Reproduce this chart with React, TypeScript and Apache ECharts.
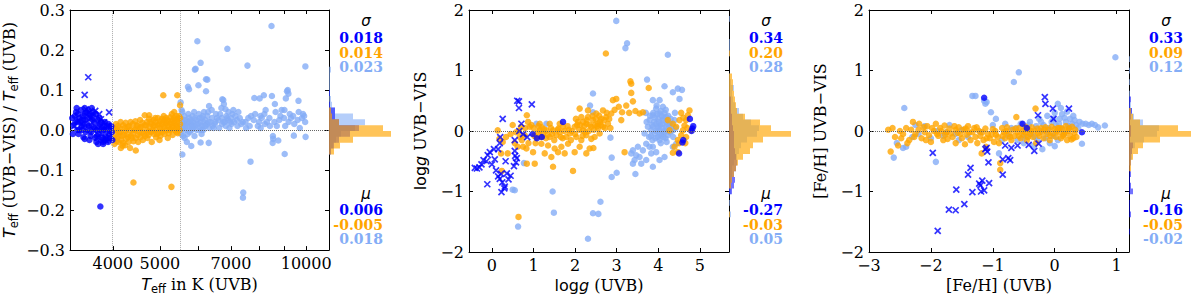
import React, { useEffect, useRef } from "react";
import * as echarts from "echarts";

type P = [number, number];

const BLUE = "#0000ff";
const ORANGE = "#ffa500";
const LIGHT = "#84adf6";
const SERIF = '"DejaVu Serif"';
const SANS = '"DejaVu Sans"';

// ---------------- Panel 1 : Teff ----------------
const teffRange = [3265, 11140];
const teffLabelValues = [4000, 5000, 7000, 10000];
const teffTickValues = [4000, 5000, 6000, 7000, 8000, 9000, 10000];
const teffVLines = [4000, 5500];
const relTicks = [-0.3, -0.2, -0.1, 0, 0.1, 0.2, 0.3];

const teffBlueCross: P[] = [
  [3560, 0.132], [3500, 0.088], [3930, 0.044], [3680, 0.048], [3575, 0.044], [3520, 0.052],
  [3780, 0.027], [3840, 0.019], [3450, 0.015], [3927, -0.006], [3720, -0.018], [3870, -0.026],
  [3600, 0.03], [3400, 0.025], [3650, 0.0], [3330, 0.01], [3750, 0.04], [3900, 0.01],
  [3550, 0.035], [3800, -0.01],
];
const teffBlueDot: P[] = [
  [3320, 0.012], [3340, 0.035], [3360, 0.045], [3380, 0.02], [3400, -0.01], [3420, 0.03],
  [3440, 0.05], [3460, 0.0], [3480, 0.025], [3500, 0.04], [3520, -0.005], [3540, 0.015],
  [3560, 0.05], [3580, 0.03], [3600, -0.015], [3620, 0.01], [3640, 0.035], [3660, 0.02],
  [3680, -0.02], [3700, 0.0], [3720, 0.025], [3740, -0.01], [3760, 0.015], [3780, -0.025],
  [3800, 0.005], [3820, -0.03], [3840, 0.01], [3860, -0.015], [3880, 0.0], [3900, -0.02],
  [3920, 0.015], [3940, -0.01], [3960, 0.005], [3980, -0.005], [3450, 0.01], [3550, 0.0],
  [3650, 0.045], [3750, 0.03], [3850, 0.02], [3580, -0.025], [3700, -0.03], [3820, -0.035],
  [3480, -0.018], [3380, 0.0], [3620, 0.055], [3500, 0.055], [3500, -0.022], [3770, -0.191],
  [3300, 0.03], [3310, -0.01], [3350, 0.02], [3370, 0.055], [3390, 0.04], [3410, 0.0],
  [3430, 0.02], [3470, 0.035], [3490, 0.01], [3510, 0.025], [3530, 0.045], [3570, 0.01],
  [3590, 0.04], [3610, -0.005], [3630, 0.025], [3670, 0.005], [3690, 0.04], [3710, -0.015],
  [3730, 0.01], [3770, 0.0], [3790, 0.02], [3810, -0.02], [3830, 0.0], [3870, -0.025],
  [3890, 0.01], [3910, -0.03], [3950, -0.02], [3970, 0.01], [3990, -0.025], [3730, -0.035],
];
const teffOrange: P[] = [
  [4020, 0.005], [4020, -0.02], [4030, -0.035], [4060, 0.015], [4060, -0.01], [4070, -0.028],
  [4100, 0.01], [4100, -0.015], [4110, -0.03], [4090, 0.0], [4150, 0.02], [4150, -0.005],
  [4160, -0.025], [4154, -0.045], [4200, 0.012], [4190, -0.039], [4210, -0.012], [4200, -0.032],
  [4250, 0.018], [4250, -0.002], [4260, -0.022], [4240, -0.038], [4300, 0.008], [4300, -0.018],
  [4310, -0.03], [4350, 0.02], [4350, 0.0], [4360, -0.015], [4340, -0.045], [4400, 0.015],
  [4400, -0.008], [4410, -0.028], [4410, -0.131], [4450, 0.022], [4450, 0.002], [4460, -0.02],
  [4459, -0.051], [4500, 0.01], [4500, -0.012], [4510, -0.03], [4550, 0.025], [4550, 0.005],
  [4560, -0.018], [4600, 0.018], [4600, -0.005], [4610, -0.025], [4653, 0.037], [4650, 0.012],
  [4660, -0.015], [4700, 0.02], [4700, 0.0], [4710, -0.02], [4750, 0.037], [4750, 0.028],
  [4760, 0.008], [4740, -0.012], [4800, 0.015], [4800, -0.005], [4810, -0.03], [4850, 0.025],
  [4850, 0.01], [4860, -0.01], [4900, 0.02], [4900, 0.0], [4910, -0.018], [4890, 0.03],
  [4950, 0.03], [4950, 0.012], [4960, -0.008], [5000, 0.022], [5000, 0.005], [5010, -0.015],
  [4990, -0.025], [5050, 0.028], [5050, 0.015], [5060, -0.005], [5080, 0.087], [5100, 0.025],
  [5100, 0.008], [5110, -0.01], [5090, 0.035], [5150, 0.03], [5150, 0.018], [5160, 0.0],
  [5200, 0.022], [5200, 0.01], [5210, -0.008], [5190, -0.02], [5250, 0.032], [5250, 0.015],
  [5260, 0.002], [5280, -0.142], [5300, 0.025], [5300, 0.008], [5310, -0.012], [5290, 0.04],
  [5350, 0.03], [5350, 0.018], [5360, 0.0], [5350, 0.045], [5400, 0.035], [5400, 0.012],
  [5410, -0.005], [5430, 0.087], [5450, 0.028], [5450, 0.02], [5460, 0.005], [5440, -0.008],
  [5500, 0.03], [5500, 0.015], [5490, 0.0], [5500, 0.062],
  [4040, 0.0], [4080, -0.02], [4120, -0.005], [4130, 0.005], [4170, -0.015], [4230, 0.005],
  [4280, -0.01], [4320, 0.01], [4380, -0.02], [4420, 0.0], [4480, 0.012], [4530, -0.005],
  [4580, 0.008], [4630, -0.01], [4680, 0.012], [4730, -0.005], [4780, 0.02], [4830, 0.0],
  [4880, 0.012], [4930, -0.01], [4980, 0.015], [5030, 0.0], [5080, 0.02], [5130, 0.01],
  [5180, 0.025], [5230, 0.0], [5280, 0.018], [5330, 0.01], [5380, 0.025], [5420, 0.005],
  [5470, 0.035],
];
const teffLight: P[] = [
  [5520, 0.0], [5520, 0.03], [5530, -0.01], [5540, 0.05], [5515, 0.069], [5560, 0.005],
  [5570, 0.02], [5580, -0.015], [5560, 0.045], [5600, 0.01], [5610, 0.035], [5620, -0.02],
  [5560, -0.061], [5650, 0.0], [5660, 0.025], [5640, 0.015], [5680, -0.03], [5700, 0.02],
  [5720, 0.04], [5700, -0.01], [5710, 0.108], [5750, 0.01], [5760, -0.005], [5740, 0.03],
  [5740, 0.102], [5800, 0.015], [5810, 0.0], [5790, 0.025], [5800, -0.04], [5850, 0.02],
  [5860, 0.005], [5840, 0.035], [5900, 0.01], [5910, 0.03], [5890, -0.015], [5921, 0.153],
  [5900, 0.151], [5950, 0.025], [5960, 0.0], [5970, 0.222], [6000, 0.015], [6010, 0.04],
  [6000, 0.112], [6063, -0.031], [6050, 0.02], [6040, 0.005], [6063, 0.168], [6100, 0.03],
  [6110, 0.01], [6090, -0.01], [6150, 0.02], [6160, 0.045], [6140, 0.0], [6220, 0.127],
  [6220, 0.097], [6200, 0.025], [6210, 0.01], [6258, 0.126], [6250, 0.015], [6260, 0.035],
  [6300, -0.032], [6300, 0.02], [6320, 0.005], [6310, 0.06], [6400, 0.03], [6420, 0.01],
  [6390, 0.05], [6500, 0.02], [6520, 0.04], [6480, 0.015], [6600, 0.025], [6720, 0.077],
  [6620, 0.005], [6750, 0.075], [6770, 0.065], [6820, 0.052], [6700, 0.03], [6710, 0.015],
  [6690, 0.055], [6800, 0.02], [6850, 0.035], [6830, 0.01], [6900, 0.025], [6920, 0.045],
  [6950, 0.005], [7000, 0.03], [7020, 0.015], [7050, 0.04], [6882, 0.203], [7100, 0.02],
  [7150, 0.035], [7200, 0.025], [7220, 0.01], [7250, 0.045], [7300, 0.03], [7350, 0.015],
  [7420, -0.156], [7410, -0.169], [7500, 0.02], [7520, 0.005], [7570, 0.161], [7680, -0.079],
  [7600, 0.03], [7650, 0.01], [7800, 0.025], [7850, 0.04], [7820, 0.08], [8000, 0.02],
  [8020, 0.079], [8050, 0.035], [8060, 0.005], [8180, 0.087], [8200, 0.04], [8220, 0.015],
  [8250, 0.05], [8400, 0.03], [8483, 0.26], [8420, 0.01], [8500, 0.085], [8540, -0.015],
  [8550, -0.022], [8530, -0.032], [8760, -0.026], [8600, 0.02], [8650, 0.045], [8620, 0.065],
  [8800, 0.025], [8850, 0.035], [9000, 0.03], [9050, 0.01], [9020, 0.05], [9030, -0.06],
  [9130, 0.097], [9190, 0.091], [9080, 0.079], [9160, 0.1], [9200, 0.02], [9250, 0.04],
  [9430, -0.014], [9400, 0.035], [9450, 0.015], [9600, 0.025], [9640, 0.073], [9650, 0.045],
  [9800, 0.03], [9850, 0.04], [9970, -0.017], [9960, 0.159], [9900, 0.035], [9950, 0.02],
  [5530, 0.015], [5590, 0.025], [5630, 0.005], [5690, 0.01], [5770, 0.02], [5830, 0.01],
  [5880, 0.045], [5940, 0.015], [6030, 0.03], [6080, 0.0], [6130, 0.035], [6180, 0.01],
  [6280, 0.045], [6350, 0.02], [6450, 0.005], [6550, 0.03], [6650, 0.04], [6760, 0.02],
  [6880, 0.03], [6980, 0.02], [7080, 0.05], [7400, 0.02], [7700, 0.035], [7950, 0.01],
  [8100, 0.03], [8300, 0.02], [8700, 0.01], [8900, 0.05], [9300, 0.03], [9700, 0.005],
];
const teffHistStart = -0.058;
const teffHistWidth = 0.0145;
const teffHistLight = [2, 4, 7, 12, 26, 36, 24, 6, 3, 2, 1, 1, 1, 1, 2];
const teffHistBlue = [2, 5, 10, 21, 30, 10, 6, 6, 1, 0, 1, 0, 0, 0, 0];
const teffHistOrange = [5, 11, 24, 62, 54, 10, 3, 2, 0, 0, 0, 0, 0, 0, 0];
const teffSigma = ["0.018", "0.014", "0.023"];
const teffMu = ["0.006", "-0.005", "0.018"];

// ---------------- Panel 2 : log g ----------------
const loggRange = [-0.55, 5.7];
const loggTicks = [0, 1, 2, 3, 4, 5];
const dexTicks = [-2, -1, 0, 1, 2];
const loggBlueCross: P[] = [
  [-0.41, -0.61], [-0.36, -0.62], [-0.3, -0.6], [-0.2, -0.48], [-0.11, -0.88], [-0.13, -0.5],
  [-0.1, -0.4], [-0.05, -0.35], [0.05, -0.3], [0.07, -0.47], [0.0, -0.55], [0.1, -0.65],
  [0.15, -0.75], [0.19, -0.2], [0.2, -0.1], [0.22, -0.71], [0.19, -0.79], [0.23, -1.01],
  [0.31, -0.92], [0.36, -0.7], [0.4, -0.8], [0.45, -0.74], [0.33, -0.5], [0.26, 0.2],
  [0.25, -0.85], [0.3, -0.95], [0.55, -0.33], [0.56, -0.41], [0.53, -0.58], [0.58, -0.52],
  [0.6, -0.45], [0.65, 0.38], [0.65, 0.49], [0.61, 0.5], [0.96, 0.44], [0.71, 0.12],
  [0.75, -0.05], [0.55, -0.15], [0.66, 0.0], [0.85, -0.1], [-0.25, -0.55], [0.15, -0.3],
];
const loggBlueDot: P[] = [
  [1.71, 0.15], [4.76, 0.2], [4.84, 0.08], [4.82, 0.04], [4.8, 0.0], [4.6, -0.15],
  [4.58, -0.19], [4.5, -0.37], [1.08, -0.12], [1.2, -0.1], [0.98, -0.05],
];
const loggOrange: P[] = [
  [0.14, 0.01], [0.18, -0.13], [0.26, -0.18], [0.34, -0.1], [0.22, -0.37], [0.24, -0.66],
  [0.38, -0.37], [0.58, -0.02], [0.7, 0.07], [0.79, -0.07], [0.84, 0.26], [0.87, 0.15],
  [0.91, 0.07], [0.67, -0.1], [0.75, -0.26], [0.83, -0.29], [0.62, -0.26], [0.84, -0.54],
  [0.99, -0.35], [1.07, -0.1], [1.03, -0.54], [1.15, 0.01], [1.23, -0.04], [1.31, 0.01],
  [1.39, -0.1], [1.47, 0.01], [1.55, -0.07], [1.63, -0.02], [1.71, 0.07], [1.79, -0.1],
  [1.87, -0.04], [1.19, -0.21], [1.35, -0.24], [1.51, -0.29], [1.67, -0.26], [1.83, -0.21],
  [1.27, -0.37], [1.43, -0.43], [1.59, -0.35], [1.75, -0.37], [1.47, -0.59], [1.95, -0.66],
  [1.15, 0.12], [1.39, 0.12], [1.63, 0.12], [1.0, 0.05], [1.1, -0.02], [1.2, 0.06],
  [1.3, -0.12], [1.45, -0.05], [1.6, 0.04], [1.7, -0.12], [1.85, 0.02], [1.9, -0.15],
  [1.05, -0.2], [1.99, 0.07], [2.07, 0.15], [2.15, 0.23], [2.19, 0.01], [2.27, 0.12],
  [2.31, 0.23], [2.39, 0.07], [2.43, 0.18], [2.51, 0.29], [2.55, 0.12], [2.63, 0.2],
  [2.67, 0.07], [2.75, 0.23], [2.79, 0.12], [2.87, 0.29], [2.03, -0.1], [2.15, -0.15],
  [2.27, -0.07], [2.39, -0.13], [2.11, -0.26], [2.35, -0.29], [2.44, -0.28], [2.27, -0.37],
  [1.99, -0.35], [2.59, -0.04], [2.11, 0.37], [2.31, 0.34], [2.67, 0.34], [2.05, 0.1],
  [2.1, 0.02], [2.2, 0.15], [2.25, -0.02], [2.35, 0.1], [2.45, 0.02], [2.5, 0.2],
  [2.55, 0.05], [2.6, 0.15], [2.7, 0.18], [2.0, -0.05], [2.22, 0.08], [2.48, 0.1],
  [2.91, 0.51], [2.99, 0.53], [3.13, 0.31], [3.23, 0.42], [3.11, 0.18], [3.39, 0.49],
  [3.35, 0.63], [3.33, 0.82], [3.35, 0.78], [3.77, 0.71], [2.74, 1.28], [3.19, -0.35],
  [3.55, 0.29], [3.63, 0.31], [0.64, -1.42], [4.75, 0.34], [4.71, 0.26], [4.67, 0.18],
  [4.63, 0.09], [4.59, 0.01], [4.51, 0.18], [4.43, 0.07], [4.35, 0.12], [4.55, -0.07],
  [4.47, -0.15], [4.39, -0.26], [4.35, -0.36], [4.47, -0.35], [4.67, -0.1], [4.79, 0.01],
  [4.27, 0.01], [4.23, 0.18], [4.6, 0.22], [4.7, 0.05], [4.5, -0.2],
  [0.45, -0.05], [0.5, 0.1], [0.55, -0.2], [0.65, 0.0], [0.72, -0.15], [0.8, 0.05],
  [0.88, -0.2], [0.95, 0.1], [1.02, -0.08], [1.12, 0.08], [1.18, -0.1], [1.25, 0.03],
  [1.34, -0.06], [1.42, 0.05], [1.5, -0.15], [1.58, 0.02], [1.66, -0.1], [1.74, 0.0],
  [1.82, 0.08], [1.92, 0.0], [2.02, 0.2], [2.12, 0.1], [2.18, -0.08], [2.28, 0.18],
  [2.33, 0.0], [2.42, 0.25], [2.47, -0.1], [2.53, 0.08], [2.58, 0.25], [2.62, 0.1],
  [2.72, 0.05], [2.76, 0.3], [2.82, 0.2], [2.85, 0.05], [2.95, 0.35], [3.05, 0.4],
  [3.3, 0.3], [3.45, 0.33], [4.55, 0.3], [4.65, -0.2],
];
const loggLight: P[] = [
  [3.79, 0.18], [3.87, 0.07], [3.95, 0.12], [4.03, 0.01], [4.11, 0.18], [4.19, 0.07],
  [3.91, -0.04], [3.99, -0.1], [4.07, -0.07], [4.15, -0.02], [4.23, -0.07], [4.27, 0.12],
  [4.31, 0.01], [3.87, 0.26], [4.03, 0.29], [4.19, 0.23], [3.95, 0.37], [4.11, 0.4],
  [3.83, 0.01], [3.75, 0.07], [3.67, -0.04], [4.03, -0.15], [4.35, 0.01], [4.39, 0.18],
  [3.9, 0.15], [4.0, 0.2], [4.05, 0.1], [4.1, 0.05], [4.15, 0.3], [4.2, 0.15],
  [3.85, 0.1], [3.95, 0.0], [4.0, 0.08], [4.08, 0.25], [4.12, -0.1], [4.25, 0.05],
  [3.73, 0.85], [4.15, 0.74], [4.47, 0.7], [4.57, 0.68], [4.35, 0.64], [4.51, 0.53],
  [3.87, 0.51], [4.03, 0.51], [2.43, 0.62], [2.36, 0.42], [2.43, 0.31], [2.85, -0.11],
  [3.35, -0.37], [3.39, -0.32], [3.43, -0.48], [3.47, -0.4], [3.51, -0.26], [3.55, -0.43],
  [3.63, -0.32], [3.71, -0.21], [3.79, -0.26], [3.87, -0.26], [3.71, -0.48], [3.59, -0.54],
  [3.83, -0.37], [3.95, -0.35], [3.39, -0.54], [3.87, -0.59], [4.03, -0.48], [4.15, -0.43],
  [4.35, -0.26], [4.43, -0.21], [3.45, -0.71], [2.88, -0.76], [3.0, -0.69], [2.88, -0.44],
  [2.99, 1.82], [3.21, 1.37], [3.25, 1.45], [4.23, 1.26], [1.46, -1.0], [1.49, -1.35],
  [2.61, -1.17], [2.43, -1.36], [2.56, -1.37], [2.31, -1.78], [0.63, -1.58], [0.5, -0.97],
  [0.55, -0.98], [0.77, -0.53], [1.07, 0.12], [1.31, 0.12],
  [3.8, 0.25], [3.82, -0.08], [3.88, 0.3], [3.92, 0.22], [3.93, -0.12], [3.97, 0.28],
  [3.98, 0.05], [4.02, 0.15], [4.04, -0.05], [4.06, 0.33], [4.09, 0.12], [4.13, 0.22],
  [4.14, 0.0], [4.17, -0.12], [4.18, 0.35], [4.21, 0.12], [4.24, 0.25], [4.28, -0.02],
  [4.3, 0.2], [4.33, 0.1], [4.36, -0.1], [3.86, -0.15], [3.96, 0.42], [4.06, -0.2],
  [4.2, -0.18], [3.78, -0.1], [3.72, 0.15], [4.4, 0.3], [4.42, 0.05], [3.7, 0.3],
];
const loggHistStart = -1.425;
const loggHistWidth = 0.095;
const loggHistLight = [2, 0, 1, 0, 2, 1, 2, 3, 3, 5, 8, 10, 12, 18, 28, 30, 22, 14, 10, 6, 4, 3, 5, 2, 1, 0, 0, 0, 1, 1, 1, 0, 0, 0, 1];
const loggHistBlue = [0, 0, 0, 0, 3, 5, 6, 5, 7, 8, 7, 6, 5, 5, 5, 4, 3, 3, 2, 2, 2, 0, 0, 0, 0, 0, 0, 0, 0, 0, 0, 0, 0, 0, 0];
const loggHistOrange = [1, 0, 0, 0, 0, 2, 3, 5, 7, 9, 14, 21, 24, 34, 62, 42, 31, 16, 8, 7, 6, 5, 4, 4, 3, 0, 0, 0, 1, 0, 0, 0, 0, 0, 0];
const loggSigma = ["0.34", "0.20", "0.28"];
const loggMu = ["-0.27", "-0.03", "0.05"];

// ---------------- Panel 3 : [Fe/H] ----------------
const fehRange = [-3, 1.2];
const fehTicks = [-3, -2, -1, 0, 1];
const fehBlueCross: P[] = [
  [-1.89, -1.65], [-1.71, -1.3], [-1.6, -1.31], [-1.59, -0.97], [-1.46, -1.21], [-1.33, -1.01],
  [-1.4, -0.72], [-1.36, -0.61], [-1.22, -0.87], [-1.17, -0.82], [-1.19, -1.0], [-1.14, -0.98],
  [-1.06, -0.86], [-1.07, -0.52], [-1.09, -0.34], [-1.1, -0.28], [-1.97, -0.36], [-0.84, -0.72],
  [-0.84, -0.47], [-0.75, -0.45], [-0.72, -0.48], [-0.8, -0.24], [-0.6, -0.24], [-0.42, -0.23],
  [-0.33, -0.33], [-0.27, 0.26], [-0.26, -0.21], [-0.15, 0.45], [-0.16, 0.56], [-0.03, 0.37],
  [-0.02, 0.2], [0.23, 0.37], [-1.2, -0.9], [-1.12, -0.3], [-0.7, -0.28],
];
const fehBlueDot: P[] = [
  [-1.14, 0.55], [-0.52, 0.12], [-0.45, 0.05], [0.44, -0.02],
];
const fehOrange: P[] = [
  [-2.69, 0.02], [-2.65, -0.34], [-2.58, -0.1], [-2.53, -0.24], [-2.5, 0.0], [-2.45, -0.05],
  [-2.4, 0.05], [-2.35, -0.15], [-2.29, 0.15], [-2.25, -0.05], [-2.2, 0.02], [-2.19, 0.12],
  [-2.15, -0.12], [-2.1, -0.02], [-2.06, 0.08], [-2.03, -0.07], [-2.0, -0.18], [-1.95, 0.0],
  [-1.92, 0.12], [-1.88, -0.08], [-1.85, 0.05], [-1.8, -0.15], [-1.78, 0.09], [-1.75, -0.02],
  [-1.73, -0.13], [-1.7, 0.04], [-1.65, -0.1], [-1.62, 0.08], [-1.6, -0.2], [-1.57, -0.03],
  [-1.55, 0.06], [-1.5, -0.12], [-1.47, 0.02], [-1.45, -0.22], [-1.42, -0.06], [-1.4, 0.08],
  [-1.36, -0.15], [-1.33, -0.02], [-1.3, 0.05], [-1.28, -0.1], [-1.25, -0.2], [-1.22, 0.0],
  [-1.2, -0.08], [-1.18, -0.37], [-1.15, -0.15], [-1.12, 0.04], [-1.11, -0.26], [-1.08, -0.05],
  [-1.05, -0.12], [-1.0, 0.03], [-0.98, -0.18], [-0.95, -0.06], [-0.92, -0.1], [-0.88, -0.53],
  [-0.88, -0.64], [-0.85, 0.05], [-0.82, -0.02], [-0.8, -0.12], [-0.77, 0.06], [-0.74, -0.05],
  [-0.7, -0.15], [-0.68, 0.02], [-0.65, -0.08], [-0.62, 0.23], [-0.6, -0.02], [-0.57, 0.05],
  [-0.55, -0.12], [-0.52, 0.0], [-0.5, -0.06], [-0.47, 0.07], [-0.45, -0.15], [-0.42, 0.02],
  [-0.4, -0.05], [-0.37, 0.06], [-0.35, -0.1], [-0.32, 0.0], [-0.31, 0.37], [-0.3, -0.2],
  [-0.28, 0.04], [-0.25, -0.08], [-0.22, 0.05], [-0.2, -0.02], [-0.18, -0.12], [-0.15, 0.06],
  [-0.12, -0.05], [-0.1, 0.02], [-0.08, -0.15], [-0.05, 0.07], [-0.03, -0.04], [0.0, 0.03],
  [0.02, -0.1], [0.05, 0.05], [0.07, -0.02], [0.1, -0.12], [0.12, 0.04], [0.15, -0.06],
  [0.18, 0.08], [0.2, -0.15], [0.22, 0.0], [0.25, -0.08], [0.28, 0.07], [0.3, -0.12],
  [0.32, -0.03], [0.35, -0.1],
  [-2.62, 0.05], [-2.48, -0.12], [-2.38, -0.2], [-2.32, 0.02], [-2.27, -0.1], [-2.12, 0.06],
  [-2.08, -0.15], [-1.98, 0.05], [-1.9, -0.05], [-1.83, 0.0], [-1.77, -0.06], [-1.68, -0.04],
  [-1.6, 0.02], [-1.52, -0.05], [-1.44, 0.04], [-1.38, -0.02], [-1.26, 0.06], [-1.17, -0.02],
  [-1.1, -0.12], [-1.02, -0.06], [-0.96, 0.0], [-0.9, -0.2], [-0.84, -0.08], [-0.78, 0.0],
  [-0.72, -0.1], [-0.63, 0.04], [-0.58, -0.08], [-0.48, -0.02], [-0.43, -0.1], [-0.38, 0.0],
  [-0.27, -0.04], [-0.17, 0.02], [-0.07, -0.08], [0.03, 0.0], [0.08, 0.05], [0.13, -0.08],
  [0.17, -0.02], [0.23, 0.04], [0.27, -0.14], [0.33, 0.02],
];
const fehLight: P[] = [
  [-2.6, -0.44], [-2.55, -0.2], [-2.45, -0.28], [-2.43, 0.38], [-2.4, -0.26], [-2.3, -0.1],
  [-2.2, -0.05], [-2.1, 0.08], [-2.0, -0.12], [-1.92, -0.51], [-1.9, 0.0], [-1.8, -0.08],
  [-1.7, 0.1], [-1.6, -0.05], [-1.5, 0.02], [-1.4, -0.1], [-1.33, 0.58], [-1.28, 0.58],
  [-1.2, -0.02], [-1.14, 0.5], [-1.12, 0.45], [-1.1, 0.48], [-1.03, 0.31], [-1.0, 0.1],
  [-0.95, 0.2], [-0.9, -0.37], [-0.85, -0.15], [-0.8, 0.12], [-0.75, -0.08], [-0.7, 0.05],
  [-0.66, 0.81], [-0.6, -0.15], [-0.58, 0.97], [-0.55, 0.12], [-0.5, -0.2], [-0.48, 0.05],
  [-0.45, -0.1], [-0.4, 0.15], [-0.38, -0.05], [-0.35, -0.25], [-0.3, 0.08], [-0.28, -0.15],
  [-0.25, 0.2], [-0.22, 0.0], [-0.2, -0.3], [-0.18, 0.1], [-0.15, -0.12], [-0.12, 0.25],
  [-0.1, 0.05], [-0.08, -0.2], [-0.05, 0.15], [-0.02, -0.08], [0.0, 0.3], [0.02, 0.1],
  [0.05, -0.15], [0.08, 0.2], [0.1, 0.05], [0.12, 0.28], [0.15, -0.05], [0.18, 0.15],
  [0.2, 0.32], [0.22, 0.08], [0.25, 0.2], [0.28, 0.12], [0.3, 0.25], [0.35, 0.1],
  [0.4, 0.15], [0.44, -0.21], [0.45, 0.12], [0.5, 0.12], [0.55, 0.1], [0.6, 0.12],
  [0.65, 0.1], [0.7, 0.06], [0.81, 0.09], [0.98, 1.22], [0.05, 0.45], [0.1, 0.38],
  [-0.62, 0.05], [-0.52, -0.1], [-0.42, 0.1], [-0.32, -0.1], [-0.22, 0.15], [-0.12, -0.02],
  [-0.02, 0.2], [0.07, 0.12], [0.16, 0.22], [0.24, 0.05], [0.32, 0.18], [0.38, 0.05],
  [-1.55, -0.15], [-2.25, 0.1], [-1.75, -0.02], [0.0, -0.25],
];
const fehHistStart = -1.71;
const fehHistWidth = 0.095;
const fehHistLight = [0, 0, 0, 0, 0, 0, 0, 0, 0, 0, 0, 0, 1, 3, 3, 6, 15, 28, 30, 14, 5, 3, 2, 1, 1, 0, 1, 0, 1, 0, 1, 0];
const fehHistBlue = [1, 0, 0, 2, 1, 1, 0, 4, 2, 1, 2, 1, 2, 2, 3, 4, 1, 2, 2, 1, 2, 3, 1, 2, 0, 0, 0, 0, 0, 0, 0, 0];
const fehHistOrange = [0, 0, 0, 0, 0, 0, 0, 0, 0, 0, 0, 2, 2, 4, 9, 14, 31, 62, 49, 11, 4, 2, 0, 0, 0, 0, 0, 0, 0, 0, 0, 0];
const fehSigma = ["0.33", "0.09", "0.12"];
const fehMu = ["-0.16", "-0.05", "-0.02"];

// ---------------- layout ----------------
const TOP = 10;
const H = 242;
const MAIN_W = 260;
const HIST_W = 67;
const HIST_MAX = 67;
const DOT = 6.5;

const minus = (s: string) => s.replace("-", "\u2212");
const fmt1 = (v: number) => minus((Math.abs(v) < 1e-9 ? 0 : v).toFixed(1));
const fmt0 = (v: number) => minus(String(Math.round(v)));
const log10 = (v: number) => Math.log10(v);

const nameRich = {
  it: { fontFamily: SANS, fontStyle: "italic", fontSize: 16, lineHeight: 22, color: "#000" },
  s: { fontFamily: SANS, fontSize: 16, lineHeight: 22, color: "#000" },
  sub: { fontFamily: SANS, fontSize: 11.5, lineHeight: 13, verticalAlign: "bottom", color: "#000" },
  n: { fontFamily: SERIF, fontSize: 16, lineHeight: 22, color: "#000" },
};

const panels = [
  {
    left: 69,
    tx: (d: P) => [log10(d[0]), d[1]],
    xMin: log10(teffRange[0]), xMax: log10(teffRange[1]),
    xTicks: teffTickValues.map(log10), xLabels: teffLabelValues.map(log10),
    xFmt: (v: number) => String(Math.round(Math.pow(10, v))),
    yMin: -0.3, yMax: 0.3, yTicks: relTicks, yFmt: fmt1,
    xName: "{it|T}{sub|eff}{n| in K (UVB)}",
    yName: "{it|T}{sub|eff}{n| (UVB\u2212VIS) / }{it|T}{sub|eff}{n| (UVB)}",
    yNameGap: 50,
    vlines: teffVLines.map(log10),
    cross: teffBlueCross, dot: teffBlueDot, orange: teffOrange, light: teffLight,
    hStart: teffHistStart, hWidth: teffHistWidth,
    hLight: teffHistLight, hBlue: teffHistBlue, hOrange: teffHistOrange,
    sigma: teffSigma, mu: teffMu,
  },
  {
    left: 469,
    tx: (d: P) => d,
    xMin: loggRange[0], xMax: loggRange[1], xTicks: loggTicks, xLabels: loggTicks, xFmt: fmt0,
    yMin: -2, yMax: 2, yTicks: dexTicks, yFmt: fmt0,
    xName: "{s|log}{it|g}{n| (UVB)}",
    yName: "{s|log}{it|g}{n| UVB\u2212VIS}",
    yNameGap: 38,
    vlines: [] as number[],
    cross: loggBlueCross, dot: loggBlueDot, orange: loggOrange, light: loggLight,
    hStart: loggHistStart, hWidth: loggHistWidth,
    hLight: loggHistLight, hBlue: loggHistBlue, hOrange: loggHistOrange,
    sigma: loggSigma, mu: loggMu,
  },
  {
    left: 869,
    tx: (d: P) => d,
    xMin: fehRange[0], xMax: fehRange[1], xTicks: fehTicks, xLabels: fehTicks, xFmt: fmt0,
    yMin: -2, yMax: 2, yTicks: dexTicks, yFmt: fmt0,
    xName: "{n|[Fe/H] (UVB)}",
    yName: "{n|[Fe/H] UVB\u2212VIS}",
    yNameGap: 38,
    vlines: [] as number[],
    cross: fehBlueCross, dot: fehBlueDot, orange: fehOrange, light: fehLight,
    hStart: fehHistStart, hWidth: fehHistWidth,
    hLight: fehHistLight, hBlue: fehHistBlue, hOrange: fehHistOrange,
    sigma: fehSigma, mu: fehMu,
  },
];

function histRender(start: number, width: number, counts: number[], fill: string) {
  return (_params: any, api: any) => {
    const pts: number[][] = [];
    pts.push(api.coord([0, start]));
    counts.forEach((c, i) => {
      pts.push(api.coord([c, start + i * width]));
      pts.push(api.coord([c, start + (i + 1) * width]));
    });
    pts.push(api.coord([0, start + counts.length * width]));
    return { type: "polygon", shape: { points: pts }, style: { fill } };
  };
}

function buildOption() {
  const grid: any[] = [];
  const xAxis: any[] = [];
  const yAxis: any[] = [];
  const series: any[] = [];
  const graphic: any[] = [];
  const tick = { show: true, inside: true, length: 4, lineStyle: { color: "#000", width: 1 } };
  const axLine = { show: true, onZero: false, lineStyle: { color: "#000", width: 1 } };
  const label = { color: "#000", fontFamily: SERIF, fontSize: 16 };

  panels.forEach((p) => {
    const gm = grid.length;
    grid.push({ left: p.left, top: TOP, width: MAIN_W, height: H });
    const gh = grid.length;
    grid.push({ left: p.left + MAIN_W, top: TOP, width: HIST_W, height: H });

    const xi = xAxis.length;
    xAxis.push({
      type: "value", gridIndex: gm, position: "bottom", min: p.xMin, max: p.xMax,
      axisLine: axLine, axisTick: { ...tick, customValues: p.xTicks },
      axisLabel: { ...label, customValues: p.xLabels, formatter: p.xFmt, margin: 5 },
      splitLine: { show: false },
      name: p.xName, nameLocation: "middle", nameGap: 19,
      nameTextStyle: { fontFamily: SERIF, fontSize: 16, color: "#000", rich: nameRich },
    });
    xAxis.push({
      type: "value", gridIndex: gm, position: "top", min: p.xMin, max: p.xMax,
      axisLine: axLine, axisTick: { ...tick, customValues: p.xTicks },
      axisLabel: { show: false }, splitLine: { show: false },
    });
    const xh = xAxis.length;
    xAxis.push({ type: "value", gridIndex: gh, min: 0, max: HIST_MAX, show: false, splitLine: { show: false } });

    const yi = yAxis.length;
    yAxis.push({
      type: "value", gridIndex: gm, position: "left", min: p.yMin, max: p.yMax,
      axisLine: axLine, axisTick: { ...tick, customValues: p.yTicks },
      axisLabel: { ...label, customValues: p.yTicks, formatter: p.yFmt, margin: 5 },
      splitLine: { show: false },
      name: p.yName, nameLocation: "middle", nameGap: p.yNameGap,
      nameTextStyle: { fontFamily: SERIF, fontSize: 16, color: "#000", rich: nameRich },
    });
    yAxis.push({
      type: "value", gridIndex: gm, position: "right", min: p.yMin, max: p.yMax,
      axisLine: axLine, axisTick: { ...tick, customValues: p.yTicks },
      axisLabel: { show: false }, splitLine: { show: false },
    });
    const yh = yAxis.length;
    yAxis.push({ type: "value", gridIndex: gh, min: p.yMin, max: p.yMax, show: false, splitLine: { show: false } });

    const markData: any[] = [
      { yAxis: 0, lineStyle: { color: "#666", type: "dotted", width: 1 } },
      ...p.vlines.map((v) => ({ xAxis: v, lineStyle: { color: "#aaa", type: "dotted", width: 1 } })),
    ];

    series.push({
      type: "scatter", xAxisIndex: xi, yAxisIndex: yi, data: p.light.map(p.tx),
      symbol: "circle", symbolSize: DOT, itemStyle: { color: LIGHT }, silent: true,
      markLine: { silent: true, symbol: "none", label: { show: false }, data: markData, animation: false },
    });
    series.push({
      type: "scatter", xAxisIndex: xi, yAxisIndex: yi, data: p.orange.map(p.tx),
      symbol: "circle", symbolSize: DOT, itemStyle: { color: ORANGE }, silent: true,
    });
    series.push({
      type: "scatter", xAxisIndex: xi, yAxisIndex: yi, data: p.dot.map(p.tx),
      symbol: "circle", symbolSize: DOT, itemStyle: { color: BLUE }, silent: true,
    });
    series.push({
      type: "scatter", xAxisIndex: xi, yAxisIndex: yi, data: p.cross.map(p.tx),
      symbol: "path://M0 0L10 10M10 0L0 10", symbolSize: 6,
      itemStyle: { color: BLUE, borderColor: BLUE, borderWidth: 1.7 }, silent: true,
    });

    const hists: [number[], string][] = [
      [p.hLight, "rgba(132,173,246,0.6)"],
      [p.hBlue, "rgba(0,0,255,0.55)"],
      [p.hOrange, "rgba(255,165,0,0.65)"],
    ];
    hists.forEach(([counts, fill]) => {
      series.push({
        type: "custom", xAxisIndex: xh, yAxisIndex: yh, data: [[0, 0]], silent: true,
        renderItem: histRender(p.hStart, p.hWidth, counts, fill),
      });
    });

    const hx = p.left + MAIN_W;
    const colors = [BLUE, ORANGE, LIGHT];
    const txt = (text: string, x: number, y: number, fill: string, font: string, align: string) => ({
      type: "text", x, y, silent: true,
      style: { text, fill, font, align, textAlign: align, verticalAlign: "middle", textVerticalAlign: "middle" },
    });
    graphic.push(txt("\u03c3", hx + 37, 21, "#000", `italic 15px ${SANS}`, "center"));
    p.sigma.forEach((s, i) => graphic.push(txt(s, hx + 54, 38 + i * 14.5, colors[i], `bold 14px ${SERIF}`, "right")));
    graphic.push(txt("\u03bc", hx + 37, 194, "#000", `italic 15px ${SANS}`, "center"));
    p.mu.forEach((s, i) => graphic.push(txt(s, hx + 54, 210 + i * 14.5, colors[i], `bold 14px ${SERIF}`, "right")));
  });

  return {
    animation: false,
    backgroundColor: "#fff",
    textStyle: { fontFamily: SERIF },
    grid, xAxis, yAxis, series, graphic,
  };
}

export default function App() {
  const ref = useRef<HTMLDivElement>(null);
  useEffect(() => {
    if (!ref.current) return;
    const chart = echarts.init(ref.current, undefined, { renderer: "svg" });
    chart.setOption(buildOption() as any);
    return () => chart.dispose();
  }, []);
  return (
    <div
      ref={ref}
      style={{ position: "fixed", left: 0, top: 0, width: 1200, height: 300, background: "#fff" }}
    />
  );
}
